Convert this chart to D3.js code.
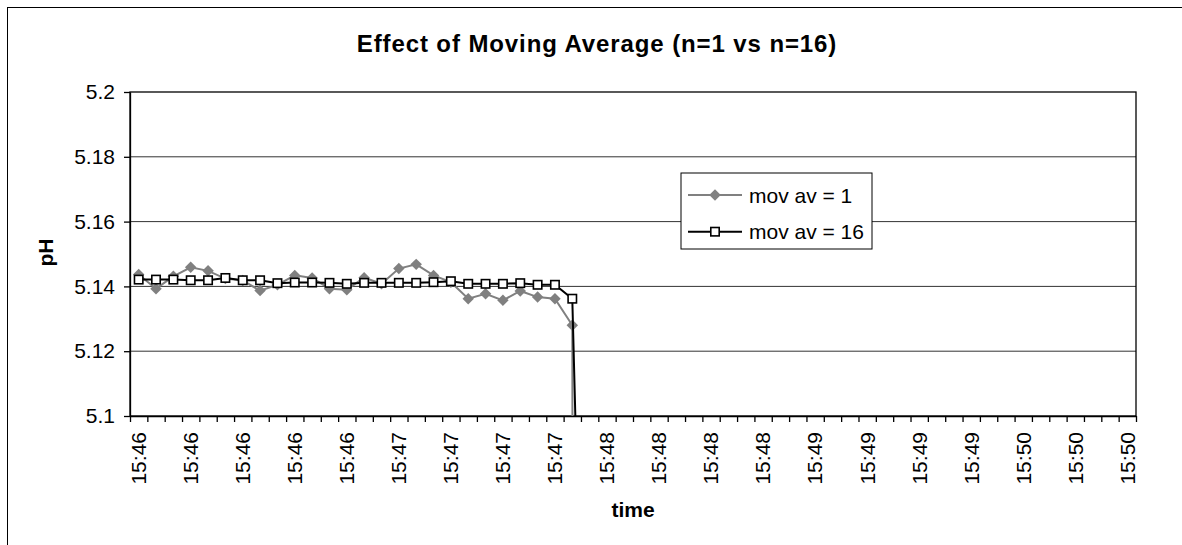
<!DOCTYPE html>
<html lang="en">
<head>
  <meta charset="UTF-8">
  <title>Effect of Moving Average</title>
  <script src="https://d3js.org/d3.v7.min.js"></script>
  <style>
    body { margin: 0; background: #fff; }
    text { font-family: "Liberation Sans", Arial, sans-serif; fill: #000; }
  </style>
</head>
<body>
<div id="chart"></div>

<script>
// readings, one per time category (last one drops far off the axis)
var movAv1 = [5.1437, 5.1393, 5.1431, 5.1459, 5.1448, 5.1424, 5.1418, 5.1387, 5.1405, 5.1434,
              5.1426, 5.1393, 5.1390, 5.1427, 5.1408, 5.1455, 5.1468, 5.1434, 5.1413, 5.1362,
              5.1377, 5.1357, 5.1386, 5.1367, 5.1362, 5.1280, 1.83];
var movAv16 = [5.1421, 5.1421, 5.1421, 5.1419, 5.1419, 5.1426, 5.1419, 5.1419, 5.1410, 5.1412,
               5.1412, 5.1411, 5.1408, 5.1411, 5.1411, 5.1411, 5.1411, 5.1413, 5.1416, 5.1408,
               5.1408, 5.1408, 5.1410, 5.1405, 5.1405, 5.1362, 4.93];

// 58 time slots on the x axis, every 3rd one labelled
var nCategories = 58;
var labelEvery = 3;
var timeLabels = ["15:46", "15:46", "15:46", "15:46", "15:46",
                  "15:47", "15:47", "15:47", "15:47",
                  "15:48", "15:48", "15:48", "15:48",
                  "15:49", "15:49", "15:49", "15:49",
                  "15:50", "15:50", "15:50"];

var yTicks = [5.1, 5.12, 5.14, 5.16, 5.18, 5.2];
var yTickLabels = ["5.1", "5.12", "5.14", "5.16", "5.18", "5.2"];

var seriesNames = ["mov av = 1", "mov av = 16"];

// plot area edges (note: "top" is a reserved window property, so prefix them)
var plotLeft = 130, plotRight = 1136, plotTop = 92, plotBottom = 416;
var sq = 8.4;      // square marker side
var dia = 84;      // diamond marker area

var svg = d3.select("#chart").append("svg")
  .attr("width", 1182)
  .attr("height", 545);

// chart area border (runs off the right and bottom of the page)
svg.append("rect")
  .attr("x", 7.5).attr("y", 7.5)
  .attr("width", 1250).attr("height", 600)
  .attr("fill", "#fff").attr("stroke", "#000").attr("stroke-width", 1);

var categories = d3.range(nCategories);

var xBand = d3.scaleBand()
  .domain(categories)
  .range([plotLeft, plotRight]);

var xEdge = d3.scaleLinear()
  .domain([0, nCategories])
  .range([plotLeft, plotRight]);

var yScale = d3.scaleLinear()
  .domain([5.1, 5.2])
  .range([plotBottom, plotTop]);

function cx(i) { return xBand(i) + xBand.bandwidth() / 2; }

// gridlines
svg.append("g")
  .selectAll("line")
  .data(yTicks.slice(1, -1))
  .enter().append("line")
  .attr("x1", plotLeft).attr("x2", plotRight)
  .attr("y1", function(d){ return yScale(d); })
  .attr("y2", function(d){ return yScale(d); })
  .attr("stroke", "#333").attr("stroke-width", 1);

// plot border
svg.append("rect")
  .attr("x", plotLeft).attr("y", plotTop)
  .attr("width", plotRight - plotLeft).attr("height", plotBottom - plotTop)
  .attr("fill", "none").attr("stroke", "#000").attr("stroke-width", 1.3);

// y axis
var yAxis = d3.axisLeft(yScale)
  .tickValues(yTicks)
  .tickFormat(function(d, i){ return yTickLabels[i]; })
  .tickSize(6)
  .tickSizeOuter(0)
  .tickPadding(9);

var gy = svg.append("g")
  .attr("transform", "translate(" + plotLeft + ",0)")
  .call(yAxis);
gy.selectAll("text").style("font-size", "21px");
gy.selectAll("line, path").attr("stroke", "#000").attr("stroke-width", 1.3);

// x axis tick marks on category edges
var xTickAxis = d3.axisBottom(xEdge)
  .tickValues(d3.range(nCategories + 1))
  .tickFormat("")
  .tickSize(6)
  .tickSizeOuter(0);

var gx = svg.append("g")
  .attr("transform", "translate(0," + plotBottom + ")")
  .call(xTickAxis);
gx.selectAll("line, path").attr("stroke", "#000").attr("stroke-width", 1.3);

// x labels, rotated
var xLabelAxis = d3.axisBottom(xBand)
  .tickValues(categories.filter(function(i){ return i % labelEvery === 0; }))
  .tickFormat(function(d){ return timeLabels[d / labelEvery]; })
  .tickSize(0);

var gxl = svg.append("g")
  .attr("transform", "translate(0," + plotBottom + ")")
  .call(xLabelAxis);
gxl.select(".domain").remove();
gxl.selectAll("text")
  .style("font-size", "21px")
  .attr("text-anchor", "end")
  .attr("transform", "rotate(-90)")
  .attr("x", -16)
  .attr("y", 0)
  .attr("dy", "0.35em");

// clip for data
svg.append("clipPath").attr("id", "plotClip")
  .append("rect")
  .attr("x", plotLeft).attr("y", plotTop)
  .attr("width", plotRight - plotLeft).attr("height", plotBottom - plotTop);

var plot = svg.append("g").attr("clip-path", "url(#plotClip)");

var line = d3.line()
  .x(function(d, i){ return cx(i); })
  .y(function(d){ return yScale(d); });

// series 1: grey diamonds
plot.append("path")
  .datum(movAv1)
  .attr("d", line)
  .attr("fill", "none")
  .attr("stroke", "#808080")
  .attr("stroke-width", 2);

plot.append("g")
  .selectAll("path")
  .data(movAv1)
  .enter().append("path")
  .attr("d", d3.symbol().type(d3.symbolDiamond2).size(dia))
  .attr("transform", function(d, i){ return "translate(" + cx(i) + "," + yScale(d) + ")"; })
  .attr("fill", "#808080");

// series 2: black line, hollow squares
plot.append("path")
  .datum(movAv16)
  .attr("d", line)
  .attr("fill", "none")
  .attr("stroke", "#000")
  .attr("stroke-width", 2);

plot.append("g")
  .selectAll("rect")
  .data(movAv16)
  .enter().append("rect")
  .attr("x", function(d, i){ return cx(i) - sq / 2; })
  .attr("y", function(d){ return yScale(d) - sq / 2; })
  .attr("width", sq).attr("height", sq)
  .attr("fill", "#fff")
  .attr("stroke", "#000")
  .attr("stroke-width", 1.6);

// legend
var legend = svg.append("g");
legend.append("rect")
  .attr("x", 681).attr("y", 173)
  .attr("width", 191).attr("height", 76)
  .attr("fill", "#fff").attr("stroke", "#000").attr("stroke-width", 1);

var rows = [195, 231.7];
seriesNames.forEach(function(name, i){
  var y = rows[i];
  legend.append("line")
    .attr("x1", 688).attr("x2", 742)
    .attr("y1", y).attr("y2", y)
    .attr("stroke", i === 0 ? "#808080" : "#000")
    .attr("stroke-width", 2);
  if (i === 0) {
    legend.append("path")
      .attr("d", d3.symbol().type(d3.symbolDiamond2).size(dia))
      .attr("transform", "translate(715," + y + ")")
      .attr("fill", "#808080");
  } else {
    legend.append("rect")
      .attr("x", 715 - sq / 2).attr("y", y - sq / 2)
      .attr("width", sq).attr("height", sq)
      .attr("fill", "#fff").attr("stroke", "#000").attr("stroke-width", 1.6);
  }
  legend.append("text")
    .attr("x", 749).attr("y", y + 7.5)
    .style("font-size", "21px")
    .text(name);
});

// titles
svg.append("text")
  .attr("x", 597).attr("y", 52)
  .attr("text-anchor", "middle")
  .style("font-size", "24px").style("font-weight", "bold")
  .style("letter-spacing", "0.9px")
  .text("Effect of Moving Average (n=1 vs n=16)");

svg.append("text")
  .attr("transform", "translate(53,252.5) rotate(-90)")
  .attr("text-anchor", "middle")
  .style("font-size", "21px").style("font-weight", "bold")
  .text("pH");

svg.append("text")
  .attr("x", 633).attr("y", 517)
  .attr("text-anchor", "middle")
  .style("font-size", "21px").style("font-weight", "bold")
  .text("time");
</script>
</body>
</html>
